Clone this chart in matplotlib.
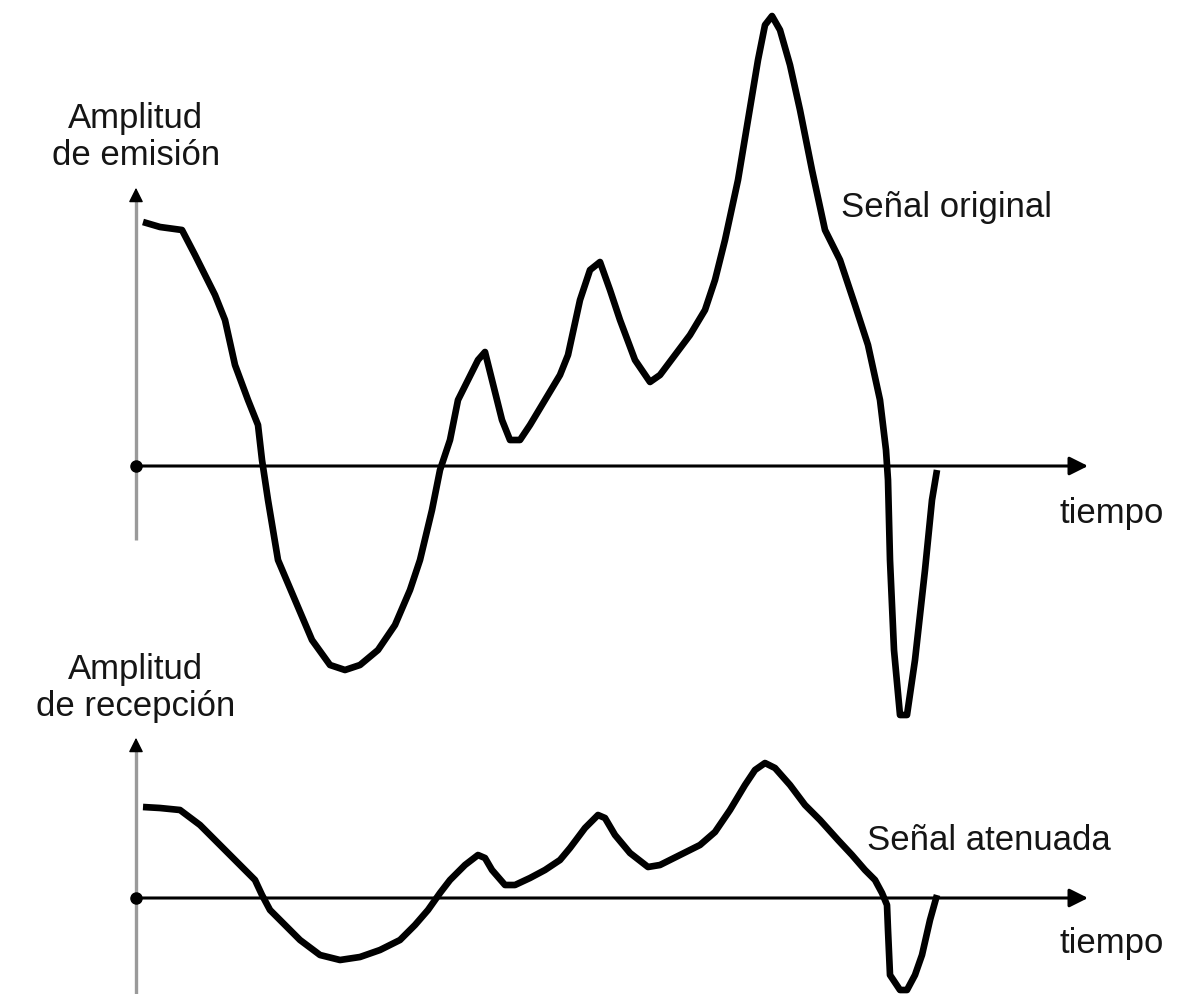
import matplotlib
matplotlib.use("Agg")
import matplotlib.pyplot as plt

plt.rcParams['font.family'] = ['Liberation Sans', 'DejaVu Sans']

# --- Data (time units from origin, amplitude units above zero line) ---
t_orig = [7, 24, 46, 59, 79, 89, 99, 112, 122, 126, 132, 142, 159, 176, 194, 209, 224,
          242, 259, 274, 284, 296, 304, 314, 322, 332, 342, 349, 356, 366, 374, 384, 394,
          409, 424, 432, 444, 454, 464, 474, 484, 499, 514, 524, 539, 554, 569, 579, 589,
          602, 612, 622, 629, 636, 644, 654, 664, 676, 689, 704, 719, 732, 744, 750, 752,
          754, 758, 764, 771, 779, 789, 796, 801]
a_orig = [244, 239, 236, 211, 171, 146, 101, 66, 41, 6, -34, -94, -134, -174, -199, -204,
          -199, -184, -159, -124, -94, -44, -4, 26, 66, 86, 106, 114, 86, 46, 26, 26, 41,
          66, 91, 111, 166, 196, 204, 176, 146, 106, 84, 91, 111, 131, 156, 186, 226, 286,
          346, 406, 441, 450, 436, 401, 356, 296, 236, 206, 161, 121, 66, 16, -14, -94,
          -184, -249, -249, -194, -104, -34, -4]

t_aten = [7, 24, 44, 64, 84, 104, 119, 126, 134, 149, 164, 184, 204, 224, 244, 264, 279,
          292, 304, 314, 329, 342, 349, 356, 369, 379, 394, 409, 424, 434, 449, 462, 469,
          479, 494, 512, 524, 544, 564, 579, 594, 609, 619, 629, 639, 654, 669, 684, 702,
          716, 729, 739, 746, 751, 752, 754, 764, 771, 779, 786, 794, 801]
a_aten = [91, 90, 88, 73, 53, 33, 18, 3, -12, -27, -42, -57, -62, -59, -52, -42, -27,
          -12, 5, 18, 33, 43, 40, 28, 13, 13, 20, 28, 38, 50, 70, 83, 80, 63, 45, 31, 33,
          43, 53, 66, 88, 113, 128, 135, 130, 113, 93, 78, 58, 43, 28, 18, 5, -7, -32, -77,
          -92, -92, -77, -57, -22, 3]

labels = {
    'ylab_top': 'Amplitud\nde emisión',
    'ylab_bot': 'Amplitud\nde recepción',
    'sig_top': 'Señal original',
    'sig_bot': 'Señal atenuada',
    'xlab': 'tiempo',
}

W, H = 1179, 994
fig = plt.figure(figsize=(W / 100, H / 100), dpi=100)
fig.patch.set_facecolor('white')

ORIG_X = 136
TOP_ZERO = 466
BOT_ZERO = 898

def make_ax(zero_px):
    ax = fig.add_axes([0, 0, 1, 1])
    ax.set_xlim(-ORIG_X, W - ORIG_X)
    ax.set_ylim(zero_px - H, zero_px)
    ax.axis('off')
    ax.patch.set_alpha(0)
    return ax

text_color = '#151515'
fs = 25

def panel(ax, t, a, yaxis_bottom, yaxis_top, ylabel, ylab_y, sig, sig_xy, xlab_y):
    # vertical axis (gray) with arrow
    ax.plot([0, 0], [yaxis_bottom, yaxis_top - 12], color='#9a9a9a', lw=2.4,
            solid_capstyle='butt', zorder=1)
    ax.annotate('', xy=(0, yaxis_top), xytext=(0, yaxis_top - 14),
                arrowprops=dict(arrowstyle='-|>', color='black', lw=1,
                                mutation_scale=22), zorder=3)
    # horizontal axis with arrow
    ax.annotate('', xy=(952, 0), xytext=(0, 0),
                arrowprops=dict(arrowstyle='-|>', color='black', lw=2.2,
                                mutation_scale=28, shrinkA=0, shrinkB=0), zorder=2)
    ax.plot([0], [0], 'o', color='black', ms=8, zorder=4)
    # signal
    ax.plot(t, a, color='black', lw=4.8, solid_joinstyle='round',
            solid_capstyle='butt', zorder=5)
    ax.text(0, ylab_y, ylabel, ha='center', va='bottom', fontsize=fs,
            color=text_color, linespacing=1.15)
    ax.text(sig_xy[0], sig_xy[1], sig, ha='left', va='center', fontsize=fs,
            color=text_color)
    ax.text(924, xlab_y, labels['xlab'], ha='left', va='center', fontsize=fs,
            color=text_color)

ax_top = make_ax(TOP_ZERO)
panel(ax_top, t_orig, a_orig, -74, 281, labels['ylab_top'], 294,
      labels['sig_top'], (705, 259), -48)

ax_bot = make_ax(BOT_ZERO)
panel(ax_bot, t_aten, a_aten, -100, 163, labels['ylab_bot'], 175,
      labels['sig_bot'], (731, 58), -45)

fig.savefig('out.png', dpi=100, facecolor='white')
